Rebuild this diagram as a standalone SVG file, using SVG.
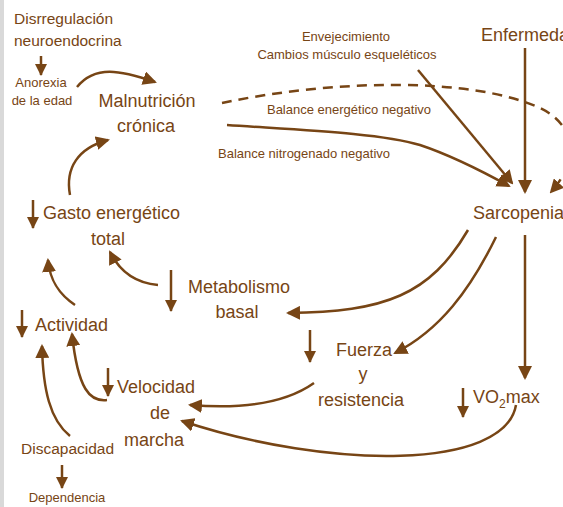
<svg xmlns="http://www.w3.org/2000/svg" width="563" height="507" viewBox="0 0 563 507">
<defs>
<marker id="ah" viewBox="0 0 14 14" refX="12" refY="7" markerWidth="14" markerHeight="14" markerUnits="userSpaceOnUse" orient="auto">
<path d="M0,0 L14,7 L0,14 Z" fill="#774515"/>
</marker>
<marker id="ahs" viewBox="0 0 12 12" refX="11" refY="6" markerWidth="12" markerHeight="12" markerUnits="userSpaceOnUse" orient="auto">
<path d="M0,0 L12,6 L0,12 Z" fill="#774515"/>
</marker>
</defs>
<style>
text{font-family:"Liberation Sans",Arial,sans-serif;fill:#774515}
.c{stroke:#774515;fill:none;stroke-width:2.5;marker-end:url(#ah)}
.d{stroke:#774515;fill:none;stroke-width:2.5;marker-end:url(#ahs)}
.big{font-size:18px}
.mid{font-size:15.5px}
.sm{font-size:13px}
</style>
<rect x="0" y="0" width="563" height="507" fill="#fff"/>
<rect x="0" y="0" width="4" height="507" fill="#d9d9d9"/>
<g id="connectors">
<path class="d" d="M41,56 V75"/>
<path class="c" d="M77,87 C95,65 120,70 155,82"/>
<path class="c" d="M70,195 C65,168 78,148 108,140"/>
<path class="c" d="M222,103 C330,80 470,76 540,108 C578,126 578,162 551,192" stroke-dasharray="10,7"/>
<path class="c" d="M227,125 C300,130 380,133 420,145 C450,155 480,170 509,186"/>
<path class="c" d="M418,70 L512,183"/>
<path class="c" d="M525,48 V192"/>
<path class="d" d="M33,200 V228"/>
<path class="c" d="M158,285 C135,283 120,272 110,252"/>
<path class="d" d="M171,270 V311"/>
<path class="c" d="M468,230 C430,295 385,312 288,313"/>
<path class="c" d="M75,305 C60,295 50,282 48,260"/>
<path class="d" d="M22,310 V337"/>
<path class="d" d="M310,330 V362"/>
<path class="c" d="M496,237 C470,290 440,330 395,353"/>
<path class="c" d="M525,235 V378"/>
<path class="d" d="M463,388 V417"/>
<path class="c" d="M516,405 C505,470 330,470 182,421"/>
<path class="c" d="M314,383 C290,400 250,410 190,405"/>
<path class="d" d="M108,368 V396"/>
<path class="c" d="M107,400 C90,402 78,390 72,334"/>
<path class="c" d="M70,436 C50,420 43,390 42,346"/>
<path class="d" d="M62,465 V488"/>
</g>
<g id="n-disreg"><text class="mid" x="14" y="24">Disrregulación</text><text class="mid" x="14" y="46">neuroendocrina</text></g>
<g id="n-anorexia"><text class="sm" x="41" y="87" text-anchor="middle">Anorexia</text><text class="sm" x="42" y="105" text-anchor="middle">de la edad</text></g>
<g id="n-malnutricion"><text class="big" x="147" y="107" text-anchor="middle">Malnutrición</text><text class="big" x="146" y="132" text-anchor="middle">crónica</text></g>
<g id="n-balance-e"><text class="sm" x="349" y="114" text-anchor="middle">Balance energético negativo</text></g>
<g id="n-balance-n"><text class="sm" x="304" y="158" text-anchor="middle">Balance nitrogenado negativo</text></g>
<g id="n-envejecimiento"><text class="sm" x="346" y="41" text-anchor="middle">Envejecimiento</text><text class="sm" x="347" y="59" text-anchor="middle">Cambios músculo esqueléticos</text></g>
<g id="n-enfermedad"><text class="big" x="481" y="41">Enfermedad</text></g>
<g id="n-sarcopenia"><text class="big" x="473" y="219">Sarcopenia</text></g>
<g id="n-gasto"><text class="big" x="43" y="219">Gasto energético</text><text class="big" x="108" y="245" text-anchor="middle">total</text></g>
<g id="n-metabolismo"><text class="big" x="188" y="293">Metabolismo</text><text class="big" x="237" y="318" text-anchor="middle">basal</text></g>
<g id="n-actividad"><text class="big" x="35" y="331">Actividad</text></g>
<g id="n-fuerza"><text class="big" x="364" y="356" text-anchor="middle">Fuerza</text><text class="big" x="363" y="380" text-anchor="middle">y</text><text class="big" x="361" y="406" text-anchor="middle">resistencia</text></g>
<g id="n-vo2max"><text class="big" x="473" y="403">VO<tspan font-size="12" dy="5">2</tspan><tspan dy="-5">max</tspan></text></g>
<g id="n-velocidad"><text class="big" x="117" y="393">Velocidad</text><text class="big" x="160" y="419" text-anchor="middle">de</text><text class="big" x="154" y="446" text-anchor="middle">marcha</text></g>
<g id="n-discapacidad"><text class="mid" x="21" y="454">Discapacidad</text></g>
<g id="n-dependencia"><text class="sm" x="67" y="502" text-anchor="middle">Dependencia</text></g>
</svg>
